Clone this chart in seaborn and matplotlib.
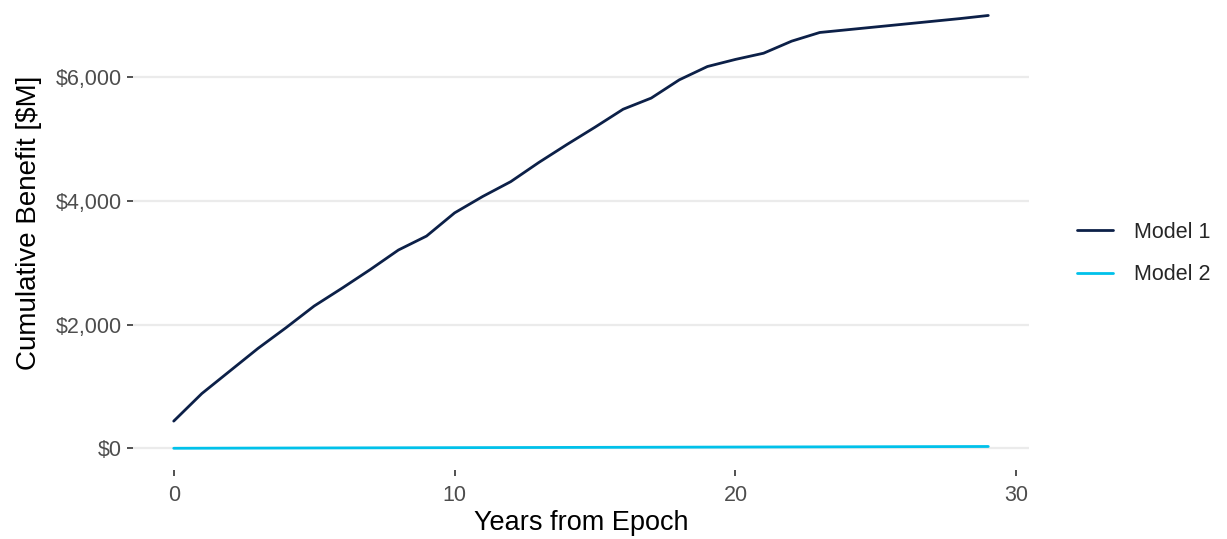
import pandas as pd
import seaborn as sns
import matplotlib.pyplot as plt
from matplotlib.ticker import FuncFormatter

# Years and cumulative benefit per model ($M)
years = list(range(30))
model_1 = [440, 885, 1250, 1615, 1950, 2300, 2590, 2890, 3205, 3430,
           3805, 4070, 4310, 4620, 4910, 5190, 5480, 5660, 5955, 6170,
           6285, 6385, 6580, 6720, 6765, 6810, 6855, 6900, 6945, 6995]
model_2 = [1, 2, 3, 4, 5, 6, 7, 8, 9, 10,
           11, 12, 13, 14, 15, 16, 17, 18, 19, 20,
           21, 22, 23, 24, 25, 26, 27, 28, 29, 30]
labels = ["Model 1", "Model 2"]
colors = ["#0C2048", "#00C1EA"]

df = pd.concat([
    pd.DataFrame({"year": years, "benefit": model_1, "model": labels[0]}),
    pd.DataFrame({"year": years, "benefit": model_2, "model": labels[1]}),
])

sns.set_style("white")
plt.rcParams['font.family'] = ['Liberation Sans', 'DejaVu Sans']

W, H = 1227, 539
fig = plt.figure(figsize=(W / 100, H / 100), dpi=100)
# panel in pixel coords: left 133, right 1029, top 0, bottom 470
ax = fig.add_axes([133 / W, 1 - 470 / H, (1029 - 133) / W, 470 / H])

sns.lineplot(data=df, x="year", y="benefit", hue="model",
             palette=dict(zip(labels, colors)), linewidth=2.0, ax=ax)

ax.set_xlim(-1.45, 30.45)
ax.set_ylim(-350, 7245)
ax.set_xticks([0, 10, 20, 30])
ax.set_yticks([0, 2000, 4000, 6000])
ax.yaxis.set_major_formatter(FuncFormatter(lambda v, p: "\\$" + format(int(v), ",")))

ax.grid(axis="y", color="#EBEBEB", linewidth=1.6)
ax.grid(axis="x", visible=False)
ax.set_axisbelow(True)
for s in ax.spines.values():
    s.set_visible(False)

ax.tick_params(axis="both", length=4, width=1.2, color="#333333",
               labelcolor="#4D4D4D", labelsize=15.5, bottom=True, left=True)
ax.tick_params(axis="x", pad=7)
ax.tick_params(axis="y", pad=4)

ax.set_xlabel("Years from Epoch", fontsize=19.5, color="black", va="top")
ax.xaxis.set_label_coords(0.5, -0.086)
ax.set_ylabel("Cumulative Benefit [\\$M]", fontsize=20, color="black")
ax.yaxis.set_label_coords(-0.102, 0.525)

leg = ax.legend(title=None, frameon=False, fontsize=15.5,
                loc="center left", bbox_to_anchor=(1077 / W, 1 - 253.5 / H),
                bbox_transform=fig.transFigure, handlelength=1.65,
                borderpad=0, borderaxespad=0,
                labelspacing=1.0, handletextpad=1.0)
for line in leg.get_lines():
    line.set_linewidth(2.0)

fig.savefig("out.png", dpi=100)
